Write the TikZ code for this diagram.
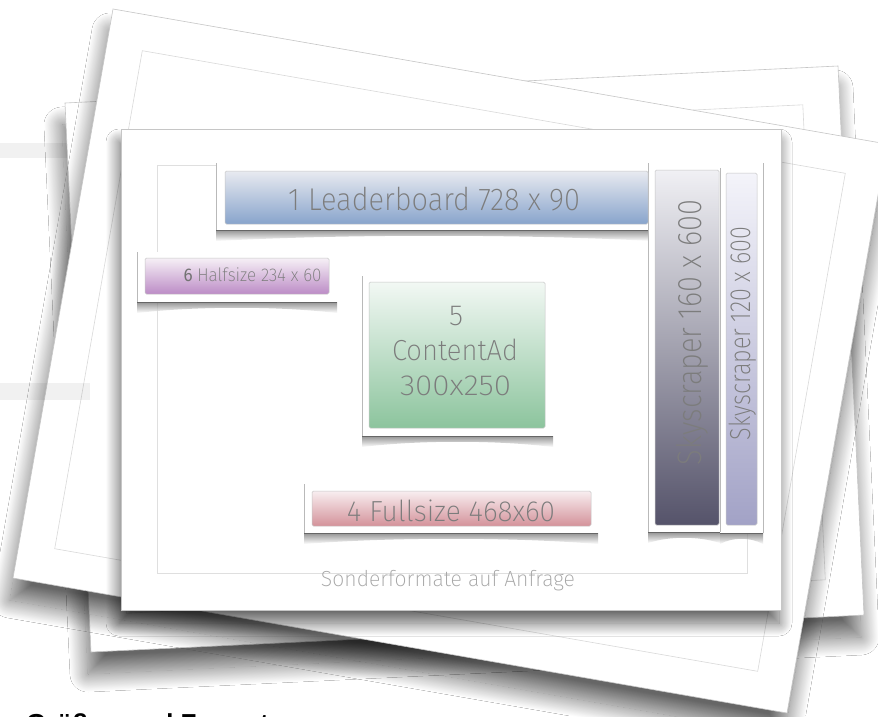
\documentclass[tikz,border=0pt]{standalone}
\usepackage{fontspec}
\usepackage{graphicx}
\setmainfont{Liberation Sans}
\newfontfamily\thinfont{Fira Sans ExtraLight}
\newfontfamily\regfont{Fira Sans}
\usetikzlibrary{shadows.blur,calc}

\definecolor{txt}{HTML}{7C7C7C}
\definecolor{lbtop}{HTML}{E8EAF0}\definecolor{lbbot}{HTML}{88A4CC}
\definecolor{hstop}{HTML}{F6F0F6}\definecolor{hsbot}{HTML}{BC8CC6}
\definecolor{catop}{HTML}{F2F8F4}\definecolor{cabot}{HTML}{8CC49D}
\definecolor{fstop}{HTML}{F8EEF0}\definecolor{fsbot}{HTML}{D4929A}
\definecolor{sonetop}{HTML}{F0F0F4}\definecolor{sonebot}{HTML}{55536A}
\definecolor{stwotop}{HTML}{F4F4FA}\definecolor{stwobot}{HTML}{A2A2C6}

\newcommand{\adt}[3]{\resizebox{#1}{\height}{\fontsize{#2}{#2}\selectfont #3}}
\newcommand{\curl}[3]{\shade[top color=black!60, bottom color=white, opacity=0.7]
  ({#1},{#3}) -- ({#2},{#3}) -- ({#2},{#3+11}) .. controls ({#2-0.3*(#2-#1)},{#3+4}) and ({#1+0.3*(#2-#1)},{#3+4}) .. ({#1},{#3+11}) -- cycle;}

\begin{document}
\begin{tikzpicture}[x=1pt,y=-1pt,
  sheet/.style={fill=white, draw=gray!45, line width=0.6pt},
  sheetshadow/.style={blur shadow={shadow xshift=-3pt, shadow yshift=-22pt, shadow blur radius=18pt, shadow opacity=60, shadow blur steps=40}},
  frontshadow/.style={blur shadow={shadow xshift=-2pt, shadow yshift=-13pt, shadow blur radius=13pt, shadow opacity=62, shadow blur steps=40}},
  innerframe/.style={draw=gray!30, line width=0.6pt},
  holder/.style={fill=white},
  hline/.style={draw=gray!55, line width=0.7pt},
  hbottom/.style={draw=black!60, line width=1pt},
  bar/.style={draw=gray!45, line width=0.5pt, rounded corners=1.5pt},
  adtext/.style={inner sep=0pt, text=txt, anchor=base}]
\useasboundingbox (0,0) rectangle (878,716);
\clip (0,0) rectangle (878,716);
\fill[white] (0,0) rectangle (878,716);

% back sheet C (counter-clockwise)
\path[sheet, sheetshadow] (65,103) -- (838,66) -- (864,615) -- (91,652) -- cycle;
\draw[innerframe] (103.7,138.2) -- (802.8,104.8) -- (825.3,579.8) -- (126.3,613.2) -- cycle;

% back sheet B (clockwise)
\path[sheet, sheetshadow] (113,9) -- (887,144) -- (787,713) -- (13,578) -- cycle;
\draw[innerframe] (142.3,50.7) -- (845.3,173.3) -- (757.7,671.3) -- (54.7,548.7) -- cycle;

% faint bands
\fill[black, opacity=0.055] (0,143) rectangle (67,158);
\fill[black, opacity=0.055] (0,383) rectangle (90,400);

% front sheet A
\path[sheet, frontshadow] (121,129) rectangle (781,610);
\draw[draw=gray!25, line width=0.8pt] (157,165) rectangle (747,573);

% holders
% leaderboard
\fill[holder] (216,163) rectangle (652,230);
\curl{216}{652}{230}
\draw[hline] (216,163) -- (216,230);
\draw[hbottom] (216,230) -- (652,230);
% halfsize
\fill[holder] (137,252) rectangle (337,302);
\curl{137}{337}{302}
\draw[hline] (137,252) -- (137,302);
\draw[hbottom] (137,302) -- (337,302);
% content ad
\fill[holder] (362,276) rectangle (553,436);
\curl{362}{553}{436}
\draw[hline] (362,276) -- (362,436);
\draw[hbottom] (362,436) -- (553,436);
% fullsize
\fill[holder] (304,484) rectangle (598,533);
\curl{304}{598}{533}
\draw[hline] (304,484) -- (304,533);
\draw[hbottom] (304,533) -- (598,533);
% skyscrapers
\fill[holder] (648,163) rectangle (763,533);
\curl{648}{720}{532}
\curl{720}{763}{533}
\draw[hline] (648,163) -- (648,532);
\draw[hline] (763,163) -- (763,533);
\draw[hline] (720,168) -- (720,532);
\draw[hbottom] (648,532) -- (720,532);
\draw[hbottom] (720,533) -- (763,533);

% bars
\shade[bar, top color=lbtop, bottom color=lbbot] (225,171) rectangle (648,224);
\shade[bar, top color=hstop, bottom color=hsbot] (145,258) rectangle (329,294);
\shade[bar, top color=catop, bottom color=cabot] (369,282) rectangle (545,428);
\shade[bar, top color=fstop, bottom color=fsbot] (312,491) rectangle (591,526);
\shade[bar, top color=sonetop, bottom color=sonebot] (655,170) rectangle (719,525);
\shade[bar, top color=stwotop, bottom color=stwobot] (726,173) rectangle (757,525);

% texts
\node[adtext] (tlb) at (434,210) {\adt{292pt}{31.5pt}{\thinfont 1 Leaderboard 728 x 90}};
\node[adtext] (ths) at (252.5,281) {\adt{138pt}{18.4pt}{{\regfont\color{black!55}6} \thinfont Halfsize 234 x 60}};
\node[adtext] (tca1) at (456,325) {\fontsize{29pt}{29pt}\selectfont\thinfont 5};
\node[adtext] (tca2) at (455,360) {\adt{126pt}{29pt}{\thinfont ContentAd}};
\node[adtext] (tca3) at (455.5,395) {\adt{111pt}{29pt}{\thinfont 300x250}};
\node[adtext] (tfs) at (451,521.7) {\adt{208pt}{29pt}{\thinfont 4 Fullsize 468x60}};
\node[adtext, rotate=90] (tsa) at (701.7,332.5) {\adt{265pt}{34pt}{\thinfont Skyscraper 160 x 600}};
\node[adtext, rotate=90] (tsb) at (750.5,333.5) {\adt{213pt}{29pt}{\thinfont Skyscraper 120 x 600}};
\node[adtext, text=gray!70] (tson) at (448,586.7) {\adt{254pt}{21.8pt}{\thinfont Sonderformate auf Anfrage}};

% cut-off heading at the bottom
\node[inner sep=0pt, anchor=base west, text=black] (title) at (26,732) {\fontsize{26pt}{26pt}\selectfont\bfseries Größen und Formate};
\end{tikzpicture}
\end{document}
